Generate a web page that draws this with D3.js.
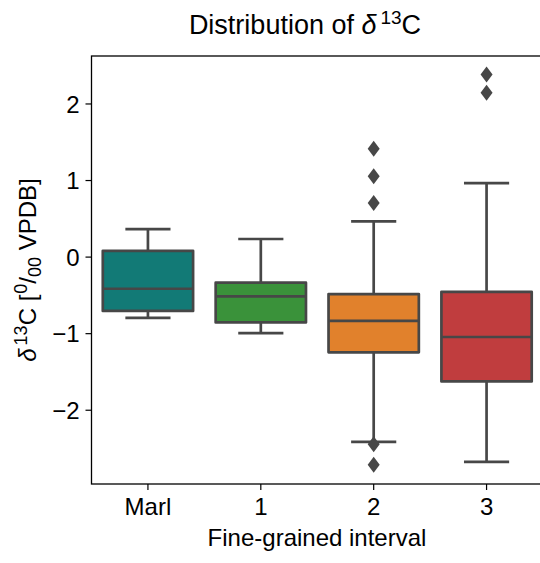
<!DOCTYPE html>
<html>
<head>
<meta charset="utf-8">
<script src="https://cdn.jsdelivr.net/npm/d3@7"></script>
<style>
  body { margin: 0; background: #fff; }
  text { font-family: "Liberation Sans", Arial, sans-serif; fill: #000; }
</style>
</head>
<body>
<div id="chart"></div>
<script>
// values
var groups = ["Marl", "1", "2", "3"];
var colors = ["#127a76", "#3a923a", "#e1812c", "#c03d3e"];
var whiskerLow = [-0.80, -1.00, -2.42, -2.68];
var q1 = [-0.71, -0.86, -1.25, -1.63];
var median = [-0.42, -0.52, -0.84, -1.05];
var q3 = [0.075, -0.34, -0.49, -0.46];
var whiskerHigh = [0.36, 0.23, 0.46, 0.96];
var outliers = [[], [], [1.41, 1.05, 0.70, -2.45, -2.72], [2.38, 2.14]];
var yTicks = [-2, -1, 0, 1, 2];

var W = 540, H = 563;
var plotLeft = 91.5, plotTop = 56, plotRight = 543, plotBottom = 484;
var lineColor = "#474747";

var svg = d3.select("#chart").append("svg")
    .attr("width", W)
    .attr("height", H);

var x = d3.scaleBand()
    .domain(groups)
    .range([plotLeft, plotRight])
    .paddingInner(0)
    .paddingOuter(0);

var y = d3.scaleLinear()
    .domain([-2.97, 2.62])
    .range([plotBottom, plotTop]);

var boxW = x.bandwidth() * 0.8;
var capW = boxW * 0.5;

var data = groups.map(function(g, i) {
    return { g: g, c: colors[i], lo: whiskerLow[i], q1: q1[i], med: median[i], q3: q3[i], hi: whiskerHigh[i], out: outliers[i] };
});

var box = svg.selectAll(".box")
    .data(data)
    .enter().append("g")
    .attr("class", "box")
    .attr("transform", function(d) { return "translate(" + (x(d.g) + x.bandwidth() / 2) + ",0)"; });

// whiskers
box.append("line")
    .attr("x1", 0).attr("x2", 0)
    .attr("y1", function(d) { return y(d.q3); })
    .attr("y2", function(d) { return y(d.hi); })
    .attr("stroke", lineColor).attr("stroke-width", 2.7);
box.append("line")
    .attr("x1", 0).attr("x2", 0)
    .attr("y1", function(d) { return y(d.q1); })
    .attr("y2", function(d) { return y(d.lo); })
    .attr("stroke", lineColor).attr("stroke-width", 2.7);

// caps
box.append("line")
    .attr("x1", -capW / 2).attr("x2", capW / 2)
    .attr("y1", function(d) { return y(d.hi); })
    .attr("y2", function(d) { return y(d.hi); })
    .attr("stroke", lineColor).attr("stroke-width", 2.7);
box.append("line")
    .attr("x1", -capW / 2).attr("x2", capW / 2)
    .attr("y1", function(d) { return y(d.lo); })
    .attr("y2", function(d) { return y(d.lo); })
    .attr("stroke", lineColor).attr("stroke-width", 2.7);

// the box
box.append("rect")
    .attr("x", -boxW / 2)
    .attr("width", boxW)
    .attr("y", function(d) { return y(d.q3); })
    .attr("height", function(d) { return y(d.q1) - y(d.q3); })
    .attr("fill", function(d) { return d.c; })
    .attr("stroke", lineColor)
    .attr("stroke-width", 2.7)
    .attr("stroke-linejoin", "round");

// median
box.append("line")
    .attr("x1", -boxW / 2).attr("x2", boxW / 2)
    .attr("y1", function(d) { return y(d.med); })
    .attr("y2", function(d) { return y(d.med); })
    .attr("stroke", lineColor).attr("stroke-width", 2.7);

// outliers as diamonds
box.selectAll(".flier")
    .data(function(d) { return d.out; })
    .enter().append("path")
    .attr("class", "flier")
    .attr("d", "M0,-8L6,0L0,8L-6,0Z")
    .attr("transform", function(v) { return "translate(0," + y(v) + ")"; })
    .attr("fill", lineColor);

// axes
var yAxis = d3.axisLeft(y)
    .tickValues(yTicks)
    .tickSize(6)
    .tickPadding(6)
    .tickFormat(function(d) { return d < 0 ? "\u2212" + Math.abs(d) : d; });

var gy = svg.append("g")
    .attr("transform", "translate(" + plotLeft + ",0)")
    .call(yAxis);
gy.select(".domain").remove();
gy.selectAll("line").attr("stroke", "#000").attr("stroke-width", 1.2);
gy.selectAll("text")
    .attr("font-size", "24px")
    .attr("font-family", "'Liberation Sans', Arial, sans-serif")
    .attr("dy", "0.36em");

var xAxis = d3.axisBottom(x)
    .tickSize(6)
    .tickPadding(8);

var gx = svg.append("g")
    .attr("transform", "translate(0," + plotBottom + ")")
    .call(xAxis);
gx.select(".domain").remove();
gx.selectAll("line").attr("stroke", "#000").attr("stroke-width", 1.2);
gx.selectAll("text")
    .attr("font-size", "24px")
    .attr("font-family", "'Liberation Sans', Arial, sans-serif");

// spines
svg.append("rect")
    .attr("x", plotLeft).attr("y", plotTop)
    .attr("width", plotRight - plotLeft).attr("height", plotBottom - plotTop)
    .attr("fill", "none")
    .attr("stroke", "#000")
    .attr("stroke-width", 1.3);

// title
var title = svg.append("text")
    .attr("x", 305)
    .attr("y", 34)
    .attr("text-anchor", "middle")
    .attr("font-size", "27px");
title.append("tspan").text("Distribution of ");
title.append("tspan").attr("font-style", "italic").text("\u03b4");
title.append("tspan").attr("font-size", "19px").attr("dy", "-10").attr("dx", "4").text("13");
title.append("tspan").attr("dy", "10").text("C");

// x label
svg.append("text")
    .attr("x", 317)
    .attr("y", 546)
    .attr("text-anchor", "middle")
    .attr("font-size", "24px")
    .text("Fine-grained interval");

// y label
var ylab = svg.append("text")
    .attr("transform", "translate(36," + ((plotTop + plotBottom) / 2) + ") rotate(-90)")
    .attr("text-anchor", "middle")
    .attr("font-size", "24px");
ylab.append("tspan").attr("font-style", "italic").text("\u03b4");
ylab.append("tspan").attr("font-size", "18px").attr("dy", "-9").attr("dx", "3").text("13");
ylab.append("tspan").attr("dy", "9").text("C [");
ylab.append("tspan").attr("font-size", "18px").attr("dy", "-9").attr("dx", "1").text("0");
ylab.append("tspan").attr("dy", "9").text("/");
ylab.append("tspan").attr("font-size", "18px").attr("dy", "5").text("00");
ylab.append("tspan").attr("dy", "-5").text(" VPDB]");
</script>
</body>
</html>
